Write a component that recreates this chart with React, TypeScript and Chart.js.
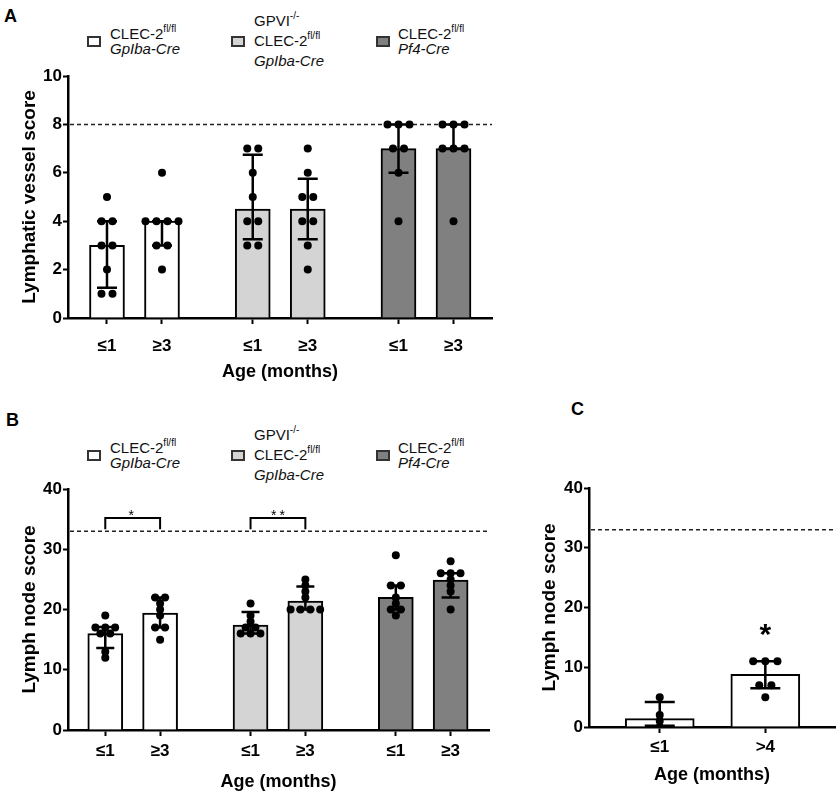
import React, { useEffect, useRef } from "react";
import { Chart, registerables } from "chart.js";
Chart.register(...registerables);

const FONT = "'Liberation Sans', Arial, Helvetica, sans-serif";
Chart.defaults.font.family = FONT;

// ---------- shared categories ----------
const genotypeColors = ["#ffffff", "#d4d4d4", "#808080"];
const ageTicks = ["≤1", "≥3"];
const xTitle = "Age (months)";

// ---------- Panel A: lymphatic vessel score ----------
const vesselBar = [3, 4, 4.5, 4.5, 7, 7];
const vesselErrLow = [1.25, 3, 3.25, 3.25, 6, 7];
const vesselErrHigh = [4, 4, 6.75, 5.75, 8, 8];
const vesselDots = [
  [5, 4, 4, 3, 3, 2, 1, 1],
  [6, 4, 4, 4, 4, 3, 3, 2],
  [7, 7, 6, 5, 4, 4, 3, 3],
  [7, 6, 5, 5, 4, 4, 3, 2],
  [8, 8, 8, 7, 7, 6, 4],
  [8, 8, 8, 7, 7, 7, 4],
];
const vesselNormal = 8;

// ---------- Panel B: lymph node score ----------
const nodeBar = [16, 19.4, 17.4, 21.4, 22, 24.9];
const nodeErrLow = [13.6, 17, 16, 20, 20, 22];
const nodeErrHigh = [17.1, 22, 19.6, 23.8, 24, 26];
const nodeDots = [
  [19, 17, 17, 17, 16, 16, 13, 12],
  [22, 22, 21, 20, 19, 17, 17, 15],
  [21, 19, 18, 17, 17, 16, 16, 16],
  [25, 24, 23, 22, 20, 20, 20, 20],
  [29, 24, 24, 22, 21, 20, 20, 19],
  [28, 26, 26, 26, 25, 24, 23, 20],
];
const nodeNormal = 33;
const nodeSigPairs = [[0, 1], [2, 3]];
const nodeSigText = ["*", "**"];
const nodeSigLevel = 35.2;

// ---------- Panel C ----------
const cTicks = ["≤1", ">4"];
const cBar = [1.4, 8.8];
const cErrLow = [0.2, 6.5];
const cErrHigh = [4.2, 11];
const cDots = [
  [5, 2, 1, 0],
  [11, 11, 11, 7, 7, 5],
];
const cNormal = 33;
const cSigText = ["", "*"];
const cSigLevel = 16.6;

// ---------- layout helpers ----------
const GROUP_STEP = 2.65;
const groupedPositions = (n: number) =>
  Array.from({ length: n }, (_, i) => Math.floor(i / 2) * GROUP_STEP + (i % 2));

type Bracket = { from: number; to: number; level: number; base: number; text: string; size: number };
type Star = { index: number; level: number; text: string; size: number };
type PanelSpec = {
  left: number; top: number; width: number; height: number;
  padTop: number; padRight: number;
  yAxisWidth: number; xAxisHeight: number;
  xMin: number; xMax: number;
  yMax: number; yStep: number;
  yTitle: string; yTitlePad: number;
  xTickPad: number; xTitlePad: number;
  xPositions: number[]; xLabels: string[];
  bars: number[]; errLow: number[]; errHigh: number[]; dots: number[][];
  colors: string[];
  barWidth: number; capWidth: number; dotStep: number;
  normal: number;
  brackets: Bracket[];
  stars: Star[];
};

function jitter(values: number[], step: number): number[] {
  const counts: Record<string, number> = {};
  values.forEach((v) => (counts[v] = (counts[v] || 0) + 1));
  const seen: Record<string, number> = {};
  return values.map((v) => {
    const n = counts[v];
    const k = seen[v] || 0;
    seen[v] = k + 1;
    return (k - (n - 1) / 2) * step;
  });
}

function buildChart(canvas: HTMLCanvasElement, p: PanelSpec) {
  const barData = p.bars.map((v, i) => ({ x: p.xPositions[i], y: v }));
  const dotData: { x: number; y: number }[] = [];
  p.dots.forEach((vals, i) => {
    const off = jitter(vals, p.dotStep);
    vals.forEach((v, j) => dotData.push({ x: p.xPositions[i] + off[j], y: v }));
  });

  const decor = {
    id: "decor",
    beforeDatasetsDraw(chart: any) {
      const { ctx, chartArea, scales } = chart;
      const y = scales.y.getPixelForValue(p.normal);
      ctx.save();
      ctx.strokeStyle = "#222";
      ctx.lineWidth = 1.5;
      ctx.setLineDash([4, 3]);
      ctx.beginPath();
      ctx.moveTo(chartArea.left + 2, y);
      ctx.lineTo(chartArea.right, y);
      ctx.stroke();
      ctx.restore();
    },
    beforeDatasetDraw(chart: any, args: any) {
      if (args.index !== 1) return;
      const { ctx, scales } = chart;
      ctx.save();
      ctx.strokeStyle = "#000";
      ctx.lineWidth = 2.5;
      p.xPositions.forEach((xv, i) => {
        const x = scales.x.getPixelForValue(xv);
        const y1 = scales.y.getPixelForValue(p.errLow[i]);
        const y2 = scales.y.getPixelForValue(p.errHigh[i]);
        const h = p.capWidth / 2;
        ctx.beginPath();
        ctx.moveTo(x, y1);
        ctx.lineTo(x, y2);
        ctx.moveTo(x - h, y1);
        ctx.lineTo(x + h, y1);
        ctx.moveTo(x - h, y2);
        ctx.lineTo(x + h, y2);
        ctx.stroke();
      });
      ctx.restore();
    },
    afterDatasetsDraw(chart: any) {
      const { ctx, scales } = chart;
      ctx.save();
      ctx.fillStyle = "#000";
      ctx.strokeStyle = "#000";
      ctx.textAlign = "center";
      ctx.textBaseline = "alphabetic";
      p.brackets.forEach((b) => {
        const x1 = scales.x.getPixelForValue(p.xPositions[b.from]);
        const x2 = scales.x.getPixelForValue(p.xPositions[b.to]);
        const yTop = scales.y.getPixelForValue(b.level);
        const yBase = scales.y.getPixelForValue(b.base);
        ctx.lineWidth = 2;
        ctx.beginPath();
        ctx.moveTo(x1, yBase);
        ctx.lineTo(x1, yTop);
        ctx.lineTo(x2, yTop);
        ctx.lineTo(x2, yBase);
        ctx.stroke();
        ctx.font = `${b.size}px ${FONT}`;
        try { (ctx as any).letterSpacing = "3px"; } catch (e) {}
        ctx.fillText(b.text, (x1 + x2) / 2 + (b.text.length > 1 ? 1.5 : 0), yTop - 3 + b.size * 0.35);
        try { (ctx as any).letterSpacing = "0px"; } catch (e) {}
      });
      p.stars.forEach((s) => {
        if (!s.text) return;
        const x = scales.x.getPixelForValue(p.xPositions[s.index]);
        const y = scales.y.getPixelForValue(s.level);
        ctx.font = `bold ${s.size}px ${FONT}`;
        ctx.fillText(s.text, x, y + s.size * 0.55);
      });
      ctx.restore();
    },
  };

  const gridCommon = {
    display: true,
    drawOnChartArea: false,
    drawTicks: true,
    tickColor: "#000",
    tickWidth: 2,
    offset: false,
  };

  return new Chart(canvas, {
    type: "bar",
    data: {
      datasets: [
        {
          type: "bar",
          data: barData,
          backgroundColor: p.colors,
          borderColor: "#000",
          borderWidth: 2,
          barThickness: p.barWidth,
          order: 2,
        } as any,
        {
          type: "scatter",
          data: dotData,
          pointRadius: 4,
          pointBackgroundColor: "#000",
          pointBorderWidth: 0,
          order: 1,
        } as any,
      ],
    },
    options: {
      responsive: false,
      animation: false,
      events: [],
      layout: { padding: { top: p.padTop, right: p.padRight, left: 0, bottom: 0 } },
      plugins: { legend: { display: false }, tooltip: { enabled: false } },
      scales: {
        x: {
          type: "linear",
          min: p.xMin,
          max: p.xMax,
          offset: false,
          afterBuildTicks: (s: any) => {
            s.ticks = p.xPositions.map((v) => ({ value: v }));
          },
          afterFit: (s: any) => {
            s.height = p.xAxisHeight;
          },
          grid: { ...gridCommon, tickLength: 6 },
          border: { display: true, color: "#000", width: 2.5 },
          ticks: {
            autoSkip: false,
            maxRotation: 0,
            padding: p.xTickPad,
            color: "#000",
            font: { size: 17, weight: "bold", family: FONT },
            callback: (_v: any, i: number) => p.xLabels[i],
          },
          title: {
            display: true,
            text: xTitle,
            color: "#000",
            font: { size: 18, weight: "bold", family: FONT },
            padding: { top: 0, bottom: p.xTitlePad },
          },
        },
        y: {
          type: "linear",
          min: 0,
          max: p.yMax,
          afterFit: (s: any) => {
            s.width = p.yAxisWidth;
          },
          grid: { ...gridCommon, tickLength: 5 },
          border: { display: true, color: "#000", width: 2.5 },
          ticks: {
            stepSize: p.yStep,
            padding: 1,
            color: "#000",
            font: { size: 17, weight: "bold", family: FONT },
          },
          title: {
            display: true,
            text: p.yTitle,
            color: "#000",
            font: { size: 19, weight: "bold", family: FONT },
            padding: { top: p.yTitlePad, bottom: 0 },
          },
        },
      },
    } as any,
    plugins: [decor as any],
  });
}

const barColors6 = [0, 0, 1, 1, 2, 2].map((g) => genotypeColors[g]);
const xPos6 = groupedPositions(6);

const panelA: PanelSpec = {
  left: 0, top: 60, width: 500, height: 330,
  padTop: 16, padRight: 8,
  yAxisWidth: 68, xAxisHeight: 72,
  xMin: -0.709, xMax: 7.0,
  yMax: 10, yStep: 2,
  yTitle: "Lymphatic vessel score", yTitlePad: 18,
  xTickPad: 12, xTitlePad: 7,
  xPositions: xPos6, xLabels: [0, 1, 2, 3, 4, 5].map((i) => ageTicks[i % 2]),
  bars: vesselBar, errLow: vesselErrLow, errHigh: vesselErrHigh, dots: vesselDots,
  colors: barColors6,
  barWidth: 35, capWidth: 20, dotStep: 0.2,
  normal: vesselNormal,
  brackets: [],
  stars: [],
};

const panelB: PanelSpec = {
  left: 0, top: 470, width: 500, height: 326,
  padTop: 19, padRight: 11,
  yAxisWidth: 68, xAxisHeight: 66,
  xMin: -0.68, xMax: 7.0,
  yMax: 40, yStep: 10,
  yTitle: "Lymph node score", yTitlePad: 18,
  xTickPad: 5, xTitlePad: 3,
  xPositions: xPos6, xLabels: [0, 1, 2, 3, 4, 5].map((i) => ageTicks[i % 2]),
  bars: nodeBar, errLow: nodeErrLow, errHigh: nodeErrHigh, dots: nodeDots,
  colors: barColors6,
  barWidth: 35, capWidth: 18, dotStep: 0.18,
  normal: nodeNormal,
  brackets: nodeSigPairs.map((pr, k) => ({
    from: pr[0], to: pr[1], level: nodeSigLevel, base: nodeNormal + 0.3, text: nodeSigText[k], size: 14,
  })),
  stars: [],
};

const panelC: PanelSpec = {
  left: 520, top: 470, width: 319, height: 326,
  padTop: 18, padRight: 3,
  yAxisWidth: 69, xAxisHeight: 69,
  xMin: -0.67, xMax: 1.66,
  yMax: 40, yStep: 10,
  yTitle: "Lymph node score", yTitlePad: 18,
  xTickPad: 4, xTitlePad: 10,
  xPositions: [0, 1], xLabels: cTicks,
  bars: cBar, errLow: cErrLow, errHigh: cErrHigh, dots: cDots,
  colors: [genotypeColors[0], genotypeColors[0]],
  barWidth: 69, capWidth: 30, dotStep: 0.115,
  normal: cNormal,
  brackets: [],
  stars: cSigText.map((t, i) => ({ index: i, level: cSigLevel, text: t, size: 30 })),
};

function ChartPanel({ spec }: { spec: PanelSpec }) {
  const ref = useRef<HTMLCanvasElement | null>(null);
  useEffect(() => {
    if (!ref.current) return;
    const chart = buildChart(ref.current, spec);
    return () => chart.destroy();
  }, [spec]);
  return (
    <canvas
      ref={ref}
      width={spec.width}
      height={spec.height}
      style={{ position: "absolute", left: spec.left, top: spec.top, width: spec.width, height: spec.height }}
    />
  );
}

const lineStyle: React.CSSProperties = {
  position: "absolute",
  fontSize: 15,
  lineHeight: "15px",
  whiteSpace: "nowrap",
  color: "#111",
  fontFamily: FONT,
};
const supStyle: React.CSSProperties = { fontSize: 10, position: "relative", top: -7 };

function Sup({ base, sup }: { base: string; sup: string }) {
  return (
    <>
      {base}
      <span style={supStyle}>{sup}</span>
    </>
  );
}

function LegendBox({ x, y, color }: { x: number; y: number; color: string }) {
  return (
    <div
      style={{
        position: "absolute", left: x, top: y, width: 14, height: 11, boxSizing: "border-box",
        border: "2px solid #333", background: color,
      }}
    />
  );
}

function Legend({ dy }: { dy: number }) {
  return (
    <>
      <LegendBox x={87} y={36 + dy} color={genotypeColors[0]} />
      <div style={{ ...lineStyle, left: 110, top: 26 + dy }}><Sup base="CLEC-2" sup="fl/fl" /></div>
      <div style={{ ...lineStyle, left: 110, top: 41 + dy, fontStyle: "italic" }}>GpIba-Cre</div>

      <LegendBox x={231} y={36 + dy} color={genotypeColors[1]} />
      <div style={{ ...lineStyle, left: 254, top: 13 + dy }}><Sup base="GPVI" sup="-/-" /></div>
      <div style={{ ...lineStyle, left: 254, top: 33 + dy }}><Sup base="CLEC-2" sup="fl/fl" /></div>
      <div style={{ ...lineStyle, left: 254, top: 53 + dy, fontStyle: "italic" }}>GpIba-Cre</div>

      <LegendBox x={376} y={36 + dy} color={genotypeColors[2]} />
      <div style={{ ...lineStyle, left: 398, top: 26 + dy }}><Sup base="CLEC-2" sup="fl/fl" /></div>
      <div style={{ ...lineStyle, left: 398, top: 41 + dy, fontStyle: "italic" }}>Pf4-Cre</div>
    </>
  );
}

const letterStyle: React.CSSProperties = {
  position: "absolute",
  fontSize: 18,
  lineHeight: "18px",
  fontWeight: "bold",
  fontFamily: FONT,
  color: "#000",
};

export default function App() {
  return (
    <div style={{ position: "absolute", left: 0, top: 0, width: 839, height: 796, background: "#fff", overflow: "hidden" }}>
      <div style={{ ...letterStyle, left: 4, top: 7 }}>A</div>
      <div style={{ ...letterStyle, left: 6, top: 411 }}>B</div>
      <div style={{ ...letterStyle, left: 571, top: 400 }}>C</div>
      <Legend dy={0} />
      <Legend dy={414} />
      <ChartPanel spec={panelA} />
      <ChartPanel spec={panelB} />
      <ChartPanel spec={panelC} />
    </div>
  );
}
